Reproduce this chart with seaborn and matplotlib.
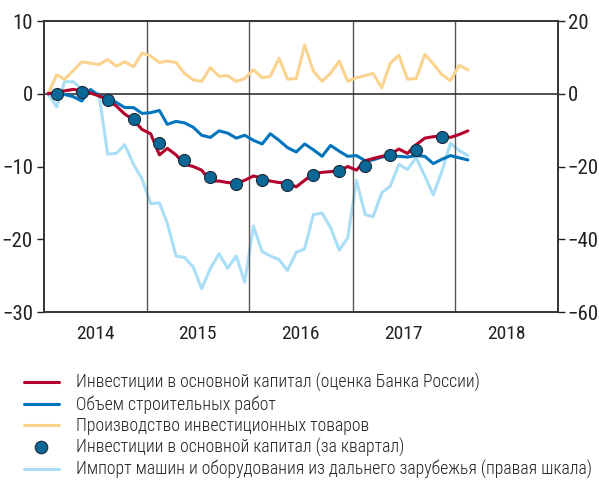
import seaborn as sns
import numpy as np
import pandas as pd
import matplotlib.pyplot as plt
from matplotlib import font_manager as fm
from matplotlib.lines import Line2D

# Investment indicators, cumulative change since Jan 2014 (monthly, mid-month)
months = pd.date_range('2014-01-01', '2018-02-01', freq='MS') + pd.Timedelta(days=14)

invest_cbr = [0, 0.2, 0.4, 0.6, 0.4, 0.1, -0.3, -0.8, -1.7, -2.8, -3.6, -4.9,
              -5.5, -8.4, -7.5, -8.4, -9.7, -10.0, -10.5, -12.0, -12.0, -12.2, -12.3, -11.9,
              -11.3, -11.6, -12.0, -12.2, -12.3, -12.8, -11.9, -11.0, -10.8, -10.7, -10.6, -10.0,
              -10.5, -9.2, -8.9, -8.6, -8.3, -7.6, -8.2, -7.0, -6.1, -5.9, -5.8, -6.0,
              -5.6, -5.1]
construction = [0, 0.1, -0.1, -0.4, -1.0, 0.6, -0.3, -0.5, -1.2, -1.9, -1.9, -2.7,
                -2.6, -2.3, -4.2, -3.8, -4.0, -4.6, -5.7, -6.0, -5.1, -5.4, -6.1, -5.7,
                -6.4, -6.9, -5.5, -6.4, -7.4, -8.0, -6.9, -7.7, -8.6, -7.1, -7.9, -8.6,
                -8.5, -9.2, -9.1, -8.7, -8.6, -8.6, -8.7, -8.5, -8.6, -9.6, -9.0, -8.5,
                -8.8, -9.1]
inv_goods = [0, 2.6, 2.0, 3.2, 4.4, 4.2, 4.0, 4.7, 3.8, 4.4, 3.7, 5.6,
             5.2, 4.3, 4.5, 4.3, 2.8, 1.9, 1.7, 3.6, 2.4, 2.5, 1.7, 2.1,
             3.3, 2.2, 2.4, 4.9, 2.0, 2.1, 6.7, 3.1, 1.7, 2.8, 4.5, 1.7,
             2.2, 2.5, 2.8, 0.8, 4.2, 5.3, 2.0, 2.1, 5.4, 4.1, 2.6, 1.8,
             3.9, 3.3]
imports = [0, -3.6, 3.3, 3.3, 1.2, 0.8, 0, -16.6, -16.4, -14.0, -19.4, -23.4,
           -30.2, -30.0, -35.6, -44.6, -45.0, -47.6, -53.6, -48.0, -44.0, -48.0, -44.6, -51.8,
           -36.4, -43.4, -44.6, -45.6, -48.6, -43.6, -42.6, -33.2, -32.8, -36.8, -43.0, -39.6,
           -23.8, -33.2, -33.8, -27.2, -25.4, -19.4, -20.8, -17.6, -22.6, -27.8, -21.2, -13.6,
           -15.6, -17.0]

quarters = pd.date_range('2014-02-01', '2017-11-01', freq='3MS') + pd.Timedelta(days=14)
invest_q = [0.0, 0.3, -0.8, -3.5, -6.7, -9.1, -11.4, -12.4,
            -11.8, -12.5, -11.1, -10.6, -9.9, -8.4, -7.7, -6.0]

years = [2014, 2015, 2016, 2017, 2018]

labels = ['Инвестиции в основной капитал (оценка Банка России)',
          'Объем строительных работ',
          'Производство инвестиционных товаров',
          'Инвестиции в основной капитал (за квартал)',
          'Импорт машин и оборудования из дальнего зарубежья (правая шкала)']

c_red = '#B4002D'
c_blue = '#0075BE'
c_yellow = '#FAD38E'
c_dot = '#0A6796'
c_light = '#A9DEF7'

sns.set_style('white')

# condensed font with cyrillic if there is one, otherwise shrink DejaVu
available = {f.name for f in fm.fontManager.ttflist}
narrow = [f for f in ['Roboto Condensed', 'PT Sans Narrow', 'Fira Sans Condensed',
                      'Open Sans Condensed'] if f in available]
if narrow:
    plt.rcParams['font.family'] = [narrow[0], 'DejaVu Sans']
    fs_tick, fs_year, fs_leg = 15, 14, 12.8
else:
    plt.rcParams['font.family'] = ['DejaVu Sans']
    fs_tick, fs_year, fs_leg = 12, 11, 9.5

df = pd.DataFrame({'date': months, 'invest': invest_cbr, 'constr': construction,
                   'goods': inv_goods, 'imports': imports})
dq = pd.DataFrame({'date': quarters, 'invest_q': invest_q})

fig = plt.figure(figsize=(5.99, 4.83), dpi=100)
ax = fig.add_axes([0.0735, 0.354, 0.858, 0.6025])
ax2 = ax.twinx()

lw = 2.2
sns.lineplot(data=df, x='date', y='imports', ax=ax2, color=c_light, lw=lw, zorder=1)
sns.lineplot(data=df, x='date', y='goods', ax=ax, color=c_yellow, lw=lw, zorder=3)
sns.lineplot(data=df, x='date', y='constr', ax=ax, color=c_blue, lw=lw, zorder=4)
sns.lineplot(data=df, x='date', y='invest', ax=ax, color=c_red, lw=lw, zorder=5)
sns.scatterplot(data=dq, x='date', y='invest_q', ax=ax, color=c_dot, s=75,
                edgecolor='#1c2b3a', linewidth=0.8, zorder=6)

# left axis above the twin so the main lines sit on top of the import line
ax.set_zorder(ax2.get_zorder() + 1)
ax.patch.set_visible(False)

ax.set_xlim(pd.Timestamp('2014-01-01'), pd.Timestamp('2019-01-01'))
ax.set_ylim(-30, 10)
ax2.set_ylim(-60, 20)
ax.set_yticks([10, 0, -10, -20, -30])
ax2.set_yticks([20, 0, -20, -40, -60])

for y in years[1:]:
    ax.axvline(pd.Timestamp(f'{y}-01-01'), color='#555555', lw=1.0, zorder=0)
ax.axhline(0, color='#333333', lw=1.2, zorder=0)

ax.set_xticks([pd.Timestamp(f'{y}-07-01') for y in years])
ax.set_xticklabels([str(y) for y in years])
ax.set_xlabel('')
ax.set_ylabel('')
ax2.set_ylabel('')

ax.tick_params(axis='x', length=0, labelsize=fs_year, pad=9, colors='#222222')
ax.tick_params(axis='y', length=5, width=1, labelsize=fs_tick, pad=3, colors='#222222',
               direction='out', left=True)
ax2.tick_params(axis='y', length=5, width=1, labelsize=fs_tick, pad=2, colors='#222222',
                direction='out', right=True)

for a in (ax, ax2):
    for sp in a.spines.values():
        sp.set_color('#333333')
        sp.set_linewidth(1.2)

handles = [Line2D([], [], color=c_red, lw=2.2),
           Line2D([], [], color=c_blue, lw=2.2),
           Line2D([], [], color=c_yellow, lw=2.2),
           Line2D([], [], color=c_dot, marker='o', markersize=9, lw=0,
                  markeredgecolor='#1c2b3a', markeredgewidth=0.8),
           Line2D([], [], color=c_light, lw=2.2)]
leg = fig.legend(handles, labels, loc='upper left', bbox_to_anchor=(0.04, 0.227),
                 frameon=False, fontsize=fs_leg, handlelength=1.97, handletextpad=0.95,
                 labelspacing=0.17, borderaxespad=0, borderpad=0)
for t in leg.get_texts():
    t.set_fontweight('light')
    t.set_color('#222222')

fig.savefig('out.png', dpi=100)
